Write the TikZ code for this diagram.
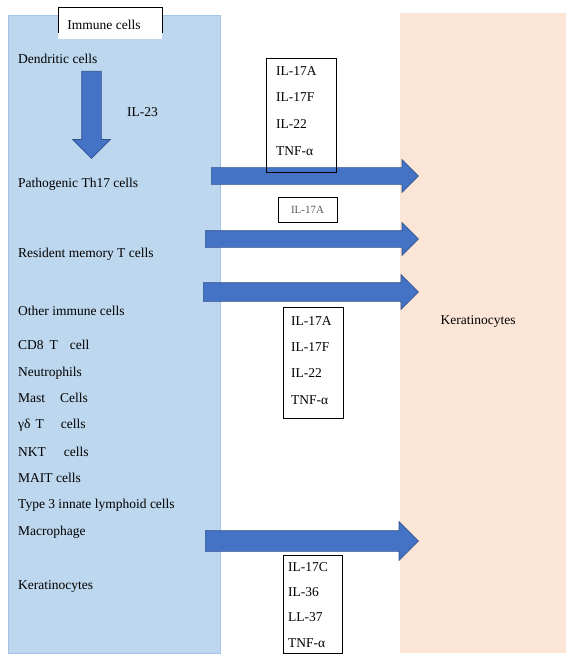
\documentclass[tikz,border=0pt]{standalone}
\usepackage{fontspec}
\setmainfont{Liberation Serif}
\usepackage{xcolor}
\usetikzlibrary{positioning,shapes.arrows}

\definecolor{immuneblue}{HTML}{BDD7EE}
\definecolor{immuneedge}{HTML}{A3C4E6}
\definecolor{keratpeach}{HTML}{FBE5D6}
\definecolor{arrowblue}{HTML}{4472C4}
\definecolor{arrowedge}{HTML}{2F528F}
\definecolor{smallgray}{HTML}{595959}

\begin{document}
\begin{tikzpicture}[x=1pt, y=-1pt, font=\fontsize{13.5}{16}\selectfont,
  cell/.style={anchor=base west, inner sep=0pt},
  cytbox/.style={draw, line width=0.8pt, anchor=north west, inner sep=0pt},
  cytlist/.style={anchor=north west, inner sep=0pt, align=left,
                  font=\fontsize{13.5}{#1}\selectfont},
  blockarr/.style={single arrow, draw=arrowedge, fill=arrowblue, line width=0.7pt,
                   inner sep=#1, single arrow head extend=8pt,
                   single arrow tip angle=90, anchor=tail},
  blockarr/.default=8pt]
\useasboundingbox (0,0) rectangle (566,655);
% panels
\fill[keratpeach] (400,13) rectangle (566,653);
\draw[immuneedge, fill=immuneblue, line width=0.8pt] (8,15) rectangle (220,653);
\fill[white] (58,7) rectangle (162,39);
\draw[line width=0.8pt] (58,33) |- (162,7) -- (162,33);
\node[anchor=base, inner sep=0pt] (immhead) at (104,30) {Immune cells};
% block arrows
\node[blockarr=9.5pt, single arrow head extend=9pt, shape border rotate=270,
      minimum height=87pt] (il23arr) at (91.5,71) {};
\node[anchor=base west, inner sep=0pt] (il23) at (127,117) {IL-23};
\node[blockarr, minimum height=207pt] (th17arr) at (211,176) {};
\node[blockarr, minimum height=213pt] (trmarr) at (205,239) {};
\node[blockarr=9pt, minimum height=215pt] (otherarr) at (203,292) {};
\node[blockarr=10pt, single arrow head extend=9pt, minimum height=213pt] (kerarr) at (205,541) {};
% cytokine boxes
\node[cytbox, minimum width=70pt, minimum height=114pt] (cyt1) at (266,58) {};
\node[cytlist=26.7pt] (cyt1txt) at ([xshift=10pt, yshift=-8pt]cyt1.north west)
  {IL-17A\\IL-17F\\IL-22\\TNF-α};
\node[draw, line width=0.8pt, minimum width=59pt, minimum height=25pt, inner sep=0pt,
      text=smallgray, font=\fontsize{11}{13}\selectfont] (il17a) at (307.5,209.5) {IL-17A};
\node[cytbox, minimum width=60pt, minimum height=111pt] (cyt2) at (283,307) {};
\node[cytlist=26.4pt] (cyt2txt) at ([xshift=8pt, yshift=-9pt]cyt2.north west)
  {IL-17A\\IL-17F\\IL-22\\TNF-α};
\node[cytbox, minimum width=59pt, minimum height=98pt] (cyt3) at (283,555) {};
\node[cytlist=25.4pt] (cyt3txt) at ([xshift=5pt, yshift=-7pt]cyt3.north west)
  {IL-17C\\IL-36\\LL-37\\TNF-α};
% immune cell labels
\node[cell] (dc) at (18,64) {Dendritic cells};
\node[cell] (th17) at (18,187) {Pathogenic Th17 cells};
\node[cell] (trm) at (18,257) {Resident memory T cells};
\node[cell] (other) at (18,315) {Other immune cells};
\node[cell] (cd8) at (18,349) {CD8\hspace{6pt}T\hspace{12pt}cell};
\node[cell] (neut) at (18,376) {Neutrophils};
\node[cell] (mast) at (18,402) {Mast\hspace{15pt}Cells};
\node[cell] (gdt) at (18,428) {γδ\hspace{5pt}T\hspace{17pt}cells};
\node[cell] (nkt) at (18,456) {NKT\hspace{18pt}cells};
\node[cell] (mait) at (18,482) {MAIT cells};
\node[cell] (ilc3) at (18,508) {Type 3 innate lymphoid cells};
\node[cell] (mac) at (18,535) {Macrophage};
\node[cell] (kerleft) at (18,589) {Keratinocytes};
\node[anchor=base, inner sep=0pt] (kerright) at (478,324) {Keratinocytes};
\end{tikzpicture}
\end{document}
